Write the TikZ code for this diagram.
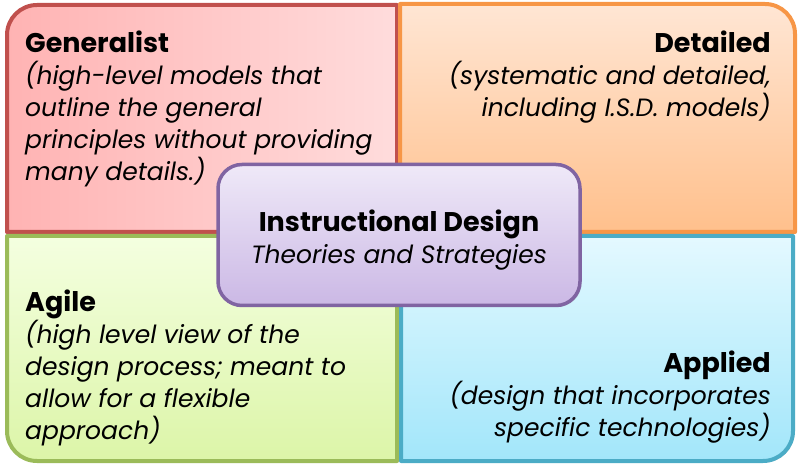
\documentclass[tikz,border=0pt]{standalone}
\usepackage{fontspec}
\setmainfont{Poppins}
\usetikzlibrary{positioning,shadows}
\definecolor{genline}{HTML}{C0504D}
\definecolor{detline}{HTML}{F79646}
\definecolor{agiline}{HTML}{9BBB59}
\definecolor{appline}{HTML}{4BACC6}
\definecolor{coreline}{HTML}{8064A2}
\definecolor{genleft}{HTML}{FFB3B3}
\definecolor{genright}{HTML}{FFDCDC}
\definecolor{dettop}{HTML}{FFE6D4}
\definecolor{detbottom}{HTML}{FFC08C}
\definecolor{agitop}{HTML}{F4FFE0}
\definecolor{agibottom}{HTML}{DCF5A8}
\definecolor{apptop}{HTML}{E4F9FF}
\definecolor{appbottom}{HTML}{A2E6FA}
\definecolor{coretop}{HTML}{EFE9F8}
\definecolor{corebottom}{HTML}{CBB8E5}
\newcommand{\quadtitle}[1]{{\fontsize{27}{32}\selectfont\bfseries #1}}
\tikzset{font=\fontsize{25}{32}\selectfont}
\tikzset{quad/.style={line width=4pt, line join=round, drop shadow={shadow xshift=1.5pt, shadow yshift=-1.5pt, opacity=.25}}}
\tikzset{quadtext/.style={inner sep=0pt, text=black}}

\begin{document}
\begin{tikzpicture}[x=1pt, y=1pt]
\useasboundingbox (0,0) rectangle (800,471);
\draw[quad, draw=genline, left color=genleft, right color=genright]
  (7,239) -- (7,436) arc[start angle=180, end angle=90, radius=30] -- (397,466) -- (397,239) -- cycle;
\draw[quad, draw=detline, top color=dettop, bottom color=detbottom]
  (400,239) -- (400,467) -- (765,467) arc[start angle=90, end angle=0, radius=30] -- (795,239) -- cycle;
\draw[quad, draw=agiline, top color=agitop, bottom color=agibottom]
  (7,235) -- (397,235) -- (397,10) -- (37,10) arc[start angle=270, end angle=180, radius=30] -- cycle;
\draw[quad, draw=appline, top color=apptop, bottom color=appbottom]
  (401,235) -- (793,235) -- (793,40) arc[start angle=0, end angle=-90, radius=30] -- (401,10) -- cycle;
\node[quadtext, anchor=north west, align=left] (gen) at (25,440)
  {\quadtitle{Generalist}\\\itshape (high-level models that\\\itshape outline the general\\\itshape principles without providing\\\itshape many details.)};
\node[quadtext, anchor=north east, align=right] (det) at (771,440)
  {\quadtitle{Detailed}\\\itshape (systematic and detailed,\\\itshape including I.S.D. models)};
\node[quadtext, anchor=north west, align=left] (agi) at (25,181)
  {\quadtitle{Agile}\\\itshape (high level view of the\\\itshape design process; meant to\\\itshape allow for a flexible\\\itshape approach)};
\node[quadtext, anchor=north east, align=right] (app) at (771,120)
  {\quadtitle{Applied}\\\itshape (design that incorporates\\\itshape specific technologies)};
\node[draw=coreline, line width=3.5pt, rounded corners=24pt, top color=coretop, bottom color=corebottom,
  minimum width=362pt, minimum height=141pt,
  drop shadow={shadow xshift=1.5pt, shadow yshift=-1.5pt, opacity=.25}] (core) at (399,236) {};
\node[quadtext, align=center] (coretext) at ([yshift=-5pt]core.center)
  {\quadtitle{Instructional Design}\\\itshape Theories and Strategies};
\end{tikzpicture}
\end{document}
